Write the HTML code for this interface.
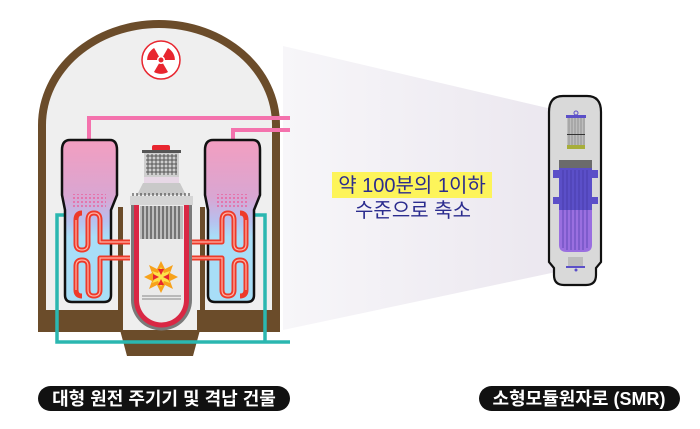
<!DOCTYPE html>
<html><head><meta charset="utf-8"><style>
html,body{margin:0;padding:0;background:#fff;width:700px;height:429px;overflow:hidden}
svg{display:block}
text{font-family:"Liberation Sans","Noto Sans CJK KR",sans-serif}
</style></head><body>
<svg width="700" height="429" viewBox="0 0 700 429" xmlns="http://www.w3.org/2000/svg">
<defs>
<linearGradient id="fun" x1="0" x2="1" y1="0" y2="0"><stop offset="0" stop-color="#f7f6f9"/><stop offset="1" stop-color="#ebe7ef"/></linearGradient>
<linearGradient id="sg" x1="0" x2="0" y1="0" y2="1"><stop offset="0" stop-color="#f39ec0"/><stop offset="0.35" stop-color="#d9a6d2"/><stop offset="0.5" stop-color="#b8c0ee"/><stop offset="0.6" stop-color="#a8def7"/><stop offset="1" stop-color="#a8def7"/></linearGradient>
<pattern id="dots" width="4" height="4" patternUnits="userSpaceOnUse"><circle cx="2" cy="2" r="0.9" fill="#f0508f"/></pattern>
</defs>
<!-- funnel -->
<polygon points="283,46 556,110 556,272 283,330" fill="url(#fun)"/>
<!-- building -->
<path d="M38,332 L38,125 A121,105 0 0 1 280,125 L280,332 Z" fill="#6b4c2a"/>
<path d="M46,310 L46,125 A113,97 0 0 1 272,125 L272,310 Z" fill="#efefef"/>
<polygon points="120,330 200,330 193,356 127,356" fill="#6b4c2a"/>
<polygon points="123,310 197,310 197,330 123,330" fill="#efefef"/>
<polygon points="118,207 123,207 123,310 118,310" fill="#6b4c2a"/>
<polygon points="200,207 205,207 205,310 200,310" fill="#6b4c2a"/>
<!-- radiation symbol -->
<circle cx="161" cy="60" r="19" fill="#fff" stroke="#e8262f" stroke-width="1.5"/>
<g fill="#e8262f" transform="translate(161,60)">
<path d="M0,0 L-7,-12 A14,14 0 0 1 7,-12 Z" transform="rotate(-60)"/>
<path d="M0,0 L-7,-12 A14,14 0 0 1 7,-12 Z" transform="rotate(60)"/>
<path d="M0,0 L-7,-12 A14,14 0 0 1 7,-12 Z" transform="rotate(180)"/>
<circle r="4" fill="#fff"/><circle r="2.5"/>
</g>
<!-- pink pipes -->
<path d="M89,140 L89,118 L290,118" fill="none" stroke="#f472ad" stroke-width="4"/>
<path d="M233,140 L233,130 L290,130" fill="none" stroke="#f472ad" stroke-width="4"/>
<!-- teal pipe -->
<path d="M66,215 L57,215 L57,342 L265,342 L265,215 L255,215 M265,342 L290,342" fill="none" stroke="#2bb7b0" stroke-width="3.5"/>
<!-- steam generators -->
<path d="M70,140 L110,140 Q117,140 117,150 L117,195 L111,210 L111,295 Q111,302 104,302 L72,302 Q65,302 65,295 L65,210 L62,195 L62,150 Q62,140 70,140 Z" fill="url(#sg)" stroke="#111" stroke-width="2.5"/>
<path d="M213,140 L253,140 Q260,140 260,150 L260,195 L254,210 L254,295 Q254,302 247,302 L215,302 Q208,302 208,295 L208,210 L205,195 L205,150 Q205,140 213,140 Z" fill="url(#sg)" stroke="#111" stroke-width="2.5"/>
<rect x="72" y="194" width="34" height="14" fill="url(#dots)"/>
<rect x="215" y="194" width="34" height="14" fill="url(#dots)"/>
<!-- red coils -->
<g fill="none" stroke="#ee3a2a" stroke-width="5" stroke-linejoin="round">
<path d="M130,242 L100,242 L100,220 Q100,213 94,213 Q88,213 88,220 L88,244 Q88,250 82,250 Q76,250 76,244 L76,220 Q76,213 82,213"/>
<path d="M130,258 L100,258 L100,290 Q100,296 94,296 Q88,296 88,290 L88,266 Q88,260 82,260 Q76,260 76,266 L76,290 Q76,296 82,296"/>
<path d="M192,242 L222,242 L222,220 Q222,213 228,213 Q234,213 234,220 L234,244 Q234,250 240,250 Q246,250 246,244 L246,220 Q246,213 240,213"/>
<path d="M192,258 L222,258 L222,290 Q222,296 228,296 Q234,296 234,290 L234,266 Q234,260 240,260 Q246,260 246,266 L246,290 Q246,296 240,296"/>
</g>
<g fill="none" stroke="#ffb3a6" stroke-width="1.2">
<path d="M130,242 L100,242 L100,220 Q100,213 94,213 Q88,213 88,220 L88,244 Q88,250 82,250 Q76,250 76,244 L76,220"/>
<path d="M130,258 L100,258 L100,290 Q100,296 94,296 Q88,296 88,290 L88,266 Q88,260 82,260 Q76,260 76,266 L76,290"/>
<path d="M192,242 L222,242 L222,220 Q222,213 228,213 Q234,213 234,220 L234,244 Q234,250 240,250 Q246,250 246,244 L246,220"/>
<path d="M192,258 L222,258 L222,290 Q222,296 228,296 Q234,296 234,290 L234,266 Q234,260 240,260 Q246,260 246,266 L246,290"/>
</g>
<!-- reactor -->
<rect x="152" y="145" width="18" height="6" rx="2" fill="#e8262f"/>
<rect x="142" y="150" width="39" height="3" fill="#555"/>
<rect x="144" y="153" width="35" height="24" fill="#cfcfcf"/>
<g stroke="#555" stroke-width="1"><path d="M146,156h31M146,160h31M146,164h31M146,168h31M146,172h31"/><path d="M148,154v21M152,154v21M156,154v21M160,154v21M164,154v21M168,154v21M172,154v21M176,154v21"/></g>
<rect x="144" y="177" width="35" height="6" fill="#e7d8e6"/>
<polygon points="143,183 180,183 186,195 137,195" fill="#c9c9c9"/>
<rect x="130" y="196" width="63" height="9" fill="#d5d5d5"/>
<g stroke="#333" stroke-width="1"><path d="M133,196v-3M137,196v-3M141,196v-3M145,196v-3M149,196v-3M153,196v-3M157,196v-3M161,196v-3M165,196v-3M169,196v-3M173,196v-3M177,196v-3M181,196v-3M185,196v-3M189,196v-3"/></g>
<path d="M131,205 L192,205 L192,300 A30.5,30.5 0 0 1 131,300 Z" fill="#7a7a7a"/>
<path d="M134,205 L189,205 L189,300 A27.5,27.5 0 0 1 134,300 Z" fill="#d92744"/>
<path d="M139,205 L184,205 L184,300 A22.5,22.5 0 0 1 139,300 Z" fill="#eaeaea"/>
<rect x="140" y="206" width="43" height="33" fill="#bdbdbd"/>
<g stroke="#444" stroke-width="1.2"><path d="M143,206v33M147,206v33M151,206v33M155,206v33M159,206v33M163,206v33M167,206v33M171,206v33M175,206v33M179,206v33"/></g>
<path d="M142,296h39M142,299h39" stroke="#888"/>
<g transform="translate(161,277)">
<polygon points="0,-16 4,-8 12,-12 9,-4 17,0 9,4 12,12 4,8 0,16 -4,8 -12,12 -9,4 -17,0 -9,-4 -12,-12 -4,-8" fill="#f7a21b"/>
<polygon points="0,-10 3,-4 9,-6 5,0 9,6 3,4 0,10 -3,4 -9,6 -5,0 -9,-6 -3,-4" fill="#fde24a"/>
<g fill="#e8262f"><path d="M0,-2 L-3,-8 L3,-8Z"/><path d="M0,2 L-3,8 L3,8Z"/><path d="M-2,0 L-8,-3 L-8,3Z"/><path d="M2,0 L8,-3 L8,3Z"/></g>
</g>
<!-- SMR -->
<path d="M563,96 L587,96 Q601,96 601,112 L601,262 L596,268 L596,275 Q596,285 586,285 L564,285 Q554,285 554,275 L554,268 L549,262 L549,112 Q549,96 563,96 Z" fill="#d9d9d9" stroke="#111" stroke-width="2.2"/>
<rect x="567" y="118" width="18" height="30" fill="#bdbdbd"/>
<g stroke="#888" stroke-width="0.8"><path d="M569,118v30M572,118v30M575,118v30M578,118v30M581,118v30M584,118v30"/></g>
<rect x="566" y="115" width="20" height="3" fill="#5b4fc8"/><circle cx="576" cy="113" r="2" fill="none" stroke="#5b4fc8"/>
<rect x="567" y="134" width="18" height="1" fill="#333"/>
<rect x="567" y="145" width="18" height="4" fill="#a7ae3a"/>
<rect x="559" y="160" width="33" height="8" fill="#6b6b6b"/>
<path d="M559,168 L592,168 L592,245 Q592,252 584,252 L567,252 Q559,252 559,245 Z" fill="#9a6fe0"/>
<rect x="559" y="168" width="33" height="42" fill="#5b4fc8"/>
<rect x="553" y="170" width="45" height="8" fill="#5b4fc8"/>
<rect x="553" y="197" width="45" height="7" fill="#5b4fc8"/>
<g stroke="#3a2f99" stroke-width="0.8" opacity="0.7"><path d="M563,170v78M567,170v80M571,170v80M575,170v80M579,170v80M583,170v80M587,170v78"/></g>
<rect x="568" y="257" width="15" height="9" fill="#bdbdbd"/>
<rect x="566" y="266" width="19" height="2" fill="#5b4fc8"/><circle cx="576" cy="270" r="1.5" fill="#5b4fc8"/>
<!-- center text -->
<rect x="332" y="172" width="160" height="26" fill="#fdf45a"/>
<text x="412" y="192" font-size="20" fill="#2b2c8e" text-anchor="middle">약 100분의 1이하</text>
<text x="413" y="217" font-size="20" fill="#2b2c8e" text-anchor="middle">수준으로 축소</text>
<!-- labels -->
<rect x="38" y="386" width="252" height="25" rx="12.5" fill="#111"/>
<text x="164" y="405" font-size="18" fill="#fff" text-anchor="middle" font-weight="bold">대형 원전 주기기 및 격납 건물</text>
<rect x="479" y="386" width="201" height="25" rx="12.5" fill="#111"/>
<text x="579" y="405" font-size="18" fill="#fff" text-anchor="middle" font-weight="bold">소형모듈원자로 (SMR)</text>
</svg>
</body></html>
